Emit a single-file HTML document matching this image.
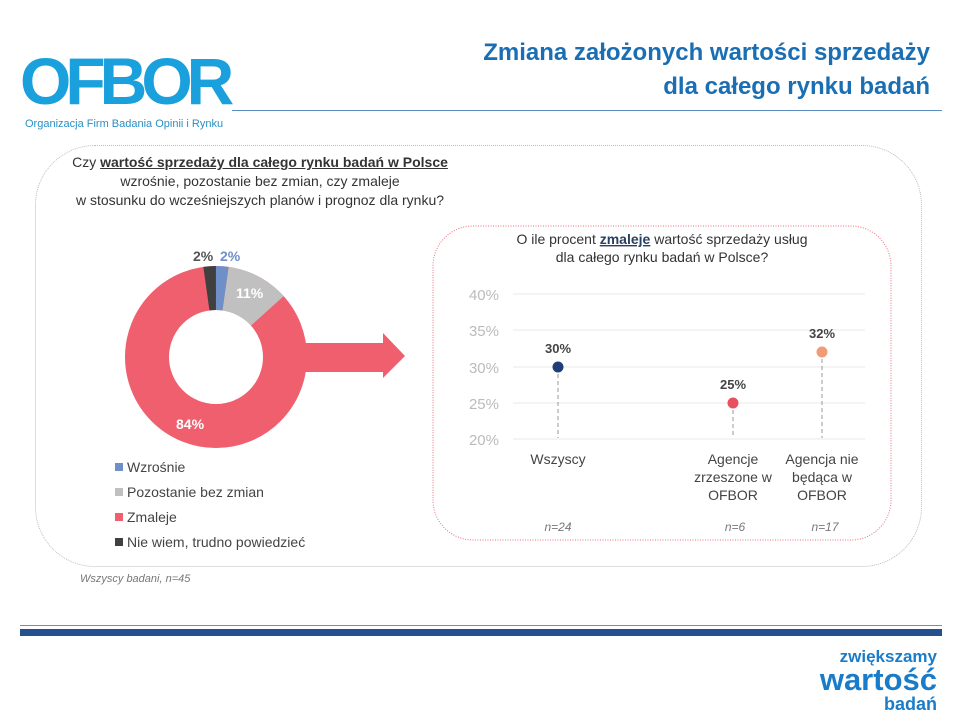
<!DOCTYPE html>
<html><head><meta charset="utf-8"><style>
body{margin:0;width:960px;height:720px;background:#fff;font-family:"Liberation Sans",sans-serif;position:relative;overflow:hidden}
.a{position:absolute}
</style></head><body>
<div class="a" style="left:20px;top:48px;font-size:66px;font-weight:bold;color:#1aa0dc;letter-spacing:-6px;line-height:66px">OFBOR</div>
<div class="a" style="left:25px;top:118px;font-size:11px;color:#2b8fc4">Organizacja Firm Badania Opinii i Rynku</div>
<div class="a" style="right:30px;top:36px;font-size:24px;font-weight:bold;color:#1a6fb4;text-align:right;line-height:34px">Zmiana założonych wartości sprzedaży<br>dla całego rynku badań</div>
<div class="a" style="left:232px;top:110px;width:710px;height:1px;background:#5a8ec0"></div>
<div class="a" style="left:35px;top:145px;width:885px;height:420px;border:1px dotted #bbb;border-radius:60px"></div>
<div class="a" style="left:40px;top:153px;width:440px;text-align:center;font-size:14px;color:#333;line-height:19px">Czy <b style="text-decoration:underline">wartość sprzedaży dla całego rynku badań w Polsce</b><br>wzrośnie, pozostanie bez zmian, czy zmaleje<br>w stosunku do wcześniejszych planów i prognoz dla rynku?</div>
<svg class="a" style="left:0;top:0" width="960" height="720">
<polygon points="296,343 383,343 383,333 405,356 383,378 383,372 296,372" fill="#f05f6e"/>
<g transform="translate(216,357)">
<circle r="69" fill="none" stroke="#f05f6e" stroke-width="44"/>
<circle r="69" fill="none" stroke="#6f8fc8" stroke-width="44" stroke-dasharray="9.6 500" transform="rotate(-90)"/>
<circle r="69" fill="none" stroke="#c0c0c0" stroke-width="44" stroke-dasharray="48.2 500" transform="rotate(-82)"/>
<circle r="69" fill="none" stroke="#404040" stroke-width="44" stroke-dasharray="9.6 500" transform="rotate(-98)"/>
</g>
<g font-size="14" font-weight="bold">
<text x="193" y="261" fill="#555">2%</text><text x="220" y="261" fill="#6f8fc8">2%</text>
<text x="236" y="298" fill="#fff">11%</text><text x="176" y="429" fill="#fff">84%</text>
</g>
<g font-size="14" fill="#444">
<rect x="115" y="463" width="8" height="8" fill="#6f8fc8"/><text x="127" y="472">Wzrośnie</text>
<rect x="115" y="488" width="8" height="8" fill="#c0c0c0"/><text x="127" y="497">Pozostanie bez zmian</text>
<rect x="115" y="513" width="8" height="8" fill="#f05f6e"/><text x="127" y="522">Zmaleje</text>
<rect x="115" y="538" width="8" height="8" fill="#404040"/><text x="127" y="547">Nie wiem, trudno powiedzieć</text>
</g>
<rect x="433" y="226" width="458" height="314" rx="40" fill="none" stroke="#e87080" stroke-dasharray="1 1.5"/>
<g stroke="#e8e8e8"><line x1="513" y1="294" x2="865" y2="294"/><line x1="513" y1="330" x2="865" y2="330"/><line x1="513" y1="367" x2="865" y2="367"/><line x1="513" y1="403" x2="865" y2="403"/><line x1="513" y1="439" x2="865" y2="439"/></g>
<g font-size="15" fill="#bbb" text-anchor="end"><text x="499" y="300">40%</text><text x="499" y="336">35%</text><text x="499" y="373">30%</text><text x="499" y="409">25%</text><text x="499" y="445">20%</text></g>
<g stroke="#999" stroke-dasharray="4 3"><line x1="558" y1="367" x2="558" y2="438"/><line x1="733" y1="403" x2="733" y2="438"/><line x1="822" y1="352" x2="822" y2="438"/></g>
<circle cx="558" cy="367" r="5.5" fill="#1f3e78"/><circle cx="733" cy="403" r="5.5" fill="#e8505f"/><circle cx="822" cy="352" r="5.5" fill="#f29b78"/>
<g font-size="13" font-weight="bold" fill="#444" text-anchor="middle"><text x="558" y="353">30%</text><text x="733" y="389">25%</text><text x="822" y="338">32%</text></g>
<g font-size="14" fill="#444" text-anchor="middle"><text x="558" y="464">Wszyscy</text>
<text x="733" y="464">Agencje</text><text x="733" y="482">zrzeszone w</text><text x="733" y="500">OFBOR</text>
<text x="822" y="464">Agencja nie</text><text x="822" y="482">będąca w</text><text x="822" y="500">OFBOR</text></g>
<g font-size="12" font-style="italic" fill="#777" text-anchor="middle"><text x="558" y="531">n=24</text><text x="735" y="531">n=6</text><text x="825" y="531">n=17</text></g>
<text x="662" y="244" font-size="14" fill="#333" text-anchor="middle">O ile procent <tspan font-weight="bold" text-decoration="underline" fill="#2a4060">zmaleje</tspan> wartość sprzedaży usług</text>
<text x="662" y="262" font-size="14" fill="#333" text-anchor="middle">dla całego rynku badań w Polsce?</text>
<text x="80" y="582" font-size="11" font-style="italic" fill="#777">Wszyscy badani, n=45</text>
<rect x="20" y="625" width="922" height="1" fill="#6a92c0"/>
<rect x="20" y="629" width="922" height="7" fill="#24508f"/>
<g fill="#1a7cc8" font-weight="bold" text-anchor="end"><text x="937" y="662" font-size="17">zwiększamy</text><text x="937" y="690" font-size="31">wartość</text><text x="937" y="710" font-size="18">badań</text></g>
</svg>
</body></html>
